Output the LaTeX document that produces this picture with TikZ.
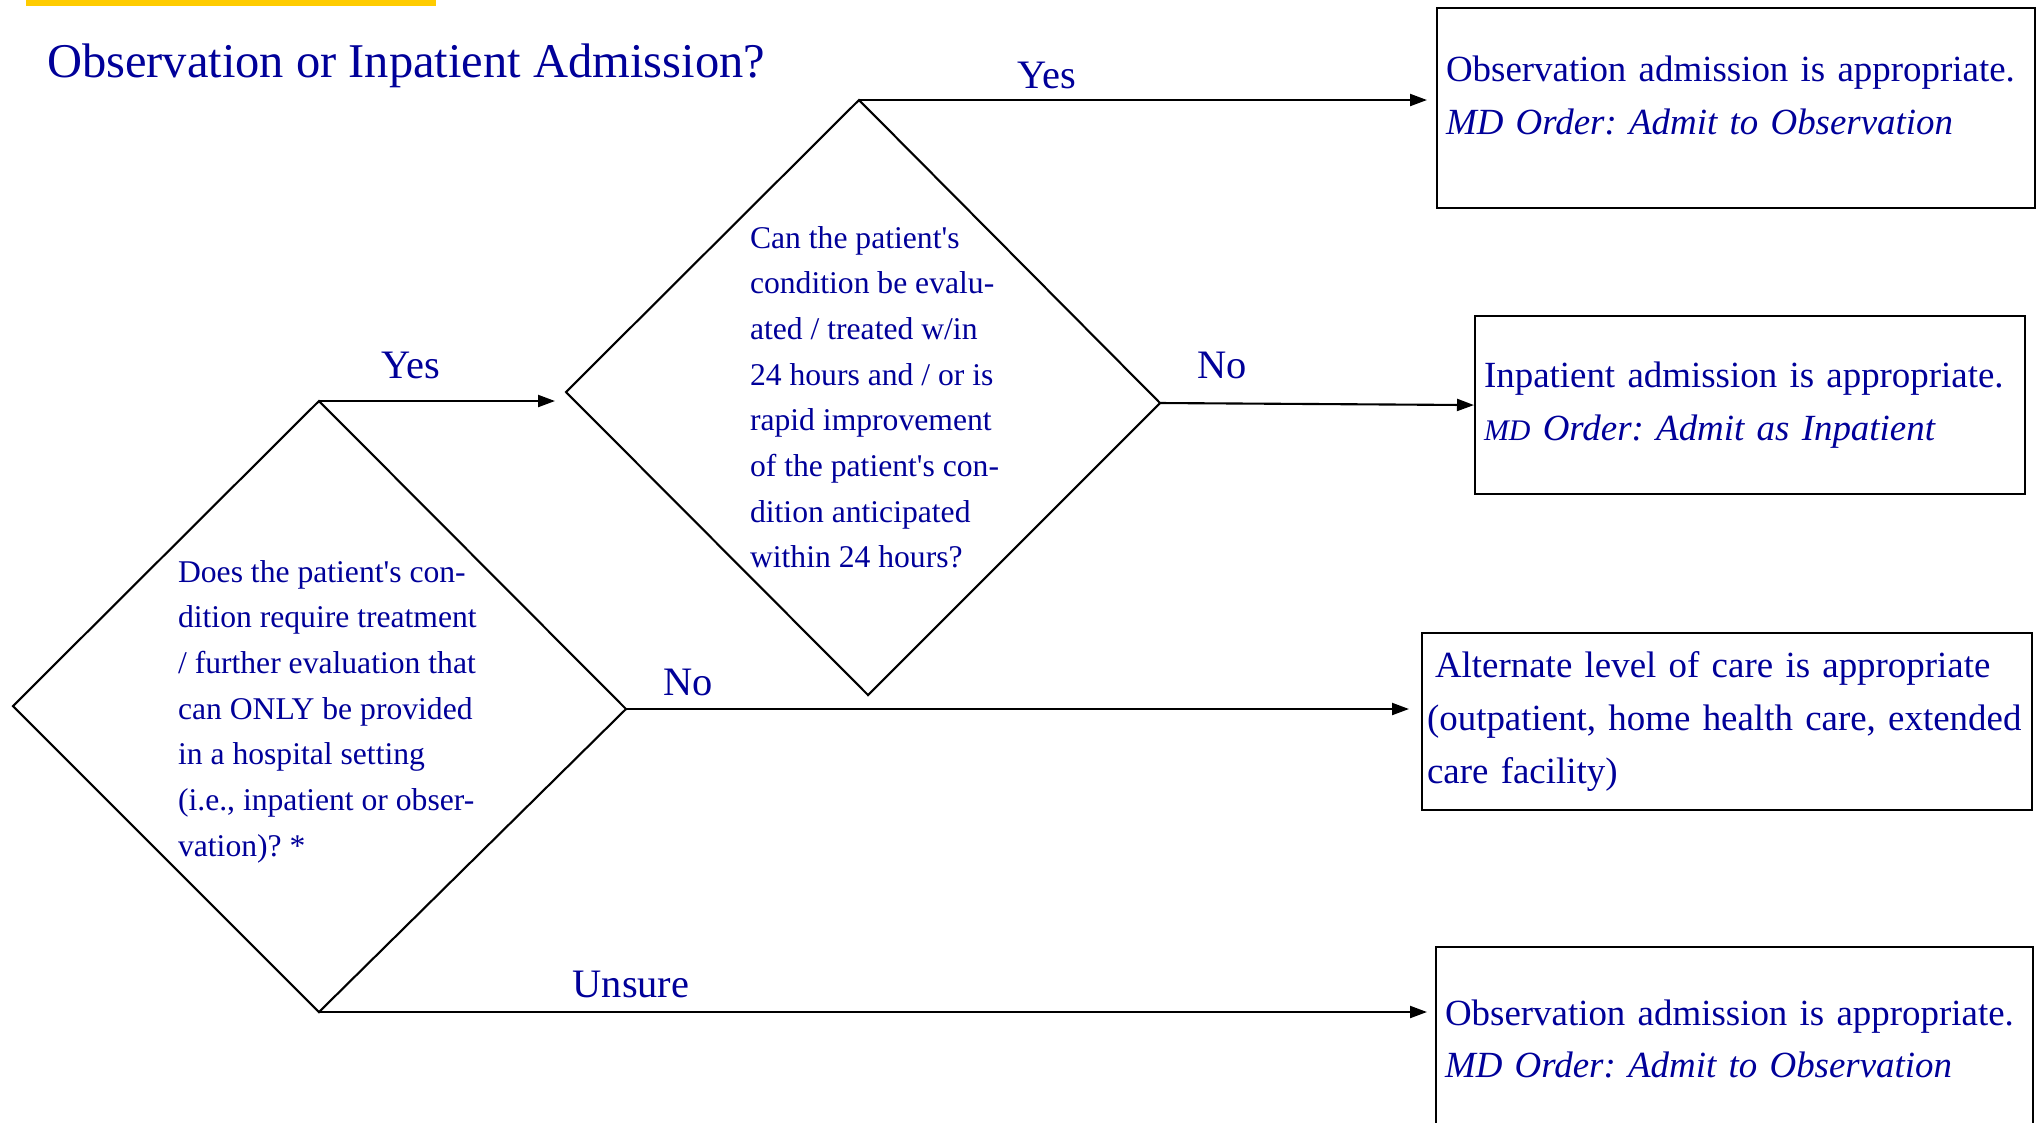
\documentclass[tikz,border=0pt]{standalone}
\usepackage{fontspec}
\setmainfont{Liberation Serif}
\usetikzlibrary{arrows.meta,positioning}

\definecolor{qblue}{RGB}{0,0,153}
\definecolor{bargold}{RGB}{255,204,0}

\begin{document}
\frenchspacing
\begin{tikzpicture}[
    >={Triangle[length=0.17cm,width=0.12cm]},
    line width=0.6pt,
    % 文字統一為深藍色
    every node/.style={text=qblue},
    outbox/.style={draw=black, rectangle, anchor=north west, align=left,
        inner xsep=0.09cm, inner ysep=0pt, font=\fontsize{10.5}{15}\selectfont},
    asktext/.style={anchor=north west, align=left, inner sep=0pt,
        font=\fontsize{9}{13}\selectfont},
    answer/.style={anchor=base, inner sep=0pt, font=\fontsize{11.5}{13}\selectfont},
]
    % --- 頁面範圍 ---
    \useasboundingbox (0,0) rectangle (20.40,-11.22);

    % 左上角黃色色條
    \fill[bargold] (0.26,0) rectangle (4.36,-0.06);

    % --- 1. 標題 ---
    \node[anchor=base west, inner sep=0pt, font=\fontsize{13.8}{16}\selectfont] (title)
        at (0.46,-0.77) {Observation or Inpatient Admission?};

    % --- 2. 菱形 (四個頂點) ---
    \coordinate (q1w) at (0.13,-7.06);
    \coordinate (q1n) at (3.19,-4.01);
    \coordinate (q1e) at (6.26,-7.09);
    \coordinate (q1s) at (3.19,-10.12);
    \draw (q1w) -- (q1n) -- (q1e) -- (q1s) -- cycle;

    \coordinate (q2w) at (5.66,-3.92);
    \coordinate (q2n) at (8.59,-1.00);
    \coordinate (q2e) at (11.60,-4.03);
    \coordinate (q2s) at (8.68,-6.95);
    \draw (q2w) -- (q2n) -- (q2e) -- (q2s) -- cycle;

    % 菱形內問題
    \node[asktext] (ask1) at (1.77,-5.59) {
        Does the patient\textquotesingle s con-\\
        dition require treatment\\
        / further evaluation that\\
        can ONLY be provided\\
        in a hospital setting\\
        (i.e., inpatient or obser-\\
        vation)? *
    };
    \node[asktext] (ask2) at (7.49,-2.25) {
        Can the patient\textquotesingle s\\
        condition be evalu-\\
        ated / treated w/in\\
        24 hours and / or is\\
        rapid improvement\\
        of the patient\textquotesingle s con-\\
        dition anticipated\\
        within 24 hours?
    };

    % --- 3. 右側結果方框 ---
    \node[outbox, text width=5.80cm, minimum height=2.00cm, text depth=0.79cm] (res1) at (14.36,-0.07) {
        Observation admission is appropriate.\\
        \textit{MD Order: Admit to Observation}
    };
    \node[outbox, text width=5.32cm, minimum height=1.78cm] (res2) at (14.74,-3.15) {
        Inpatient admission is appropriate.\\
        \textit{{\fontsize{8.5}{15}\selectfont MD} Order: Admit as Inpatient}
    };
    \node[outbox, text width=6.00cm, inner xsep=0.05cm, minimum height=1.77cm] (res3) at (14.21,-6.32) {
        \hspace{0.08cm}Alternate level of care is appropriate\\
        (outpatient, home health care, extended\\
        care facility)
    };
    \node[outbox, text width=5.79cm, minimum height=1.84cm] (res4) at (14.35,-9.46) {
        Observation admission is appropriate.\\
        \textit{MD Order: Admit to Observation}
    };

    % --- 4. 連接箭頭 ---
    \draw[->, shorten >=0.11cm] (q1n) -- (q1n -| q2w);
    \draw[->, shorten >=0.09cm] (q2n) -- (q2n -| res1.west);
    \draw[->] (q2e) -- (res2.west);
    \draw[->, shorten >=0.12cm] (q1e) -- (q1e -| res3.west);
    \draw[->, shorten >=0.08cm] (q1s) -- (q1s -| res4.west);

    % 箭頭標籤
    \node[answer] (yes1) at (4.11,-3.78) {Yes};
    \node[answer] (yes2) at (10.47,-0.88) {Yes};
    \node[answer] (no2) at (12.22,-3.78) {No};
    \node[answer] (no1) at (6.88,-6.95) {No};
    \node[answer] (unsure) at (6.31,-9.97) {Unsure};

\end{tikzpicture}
\end{document}
